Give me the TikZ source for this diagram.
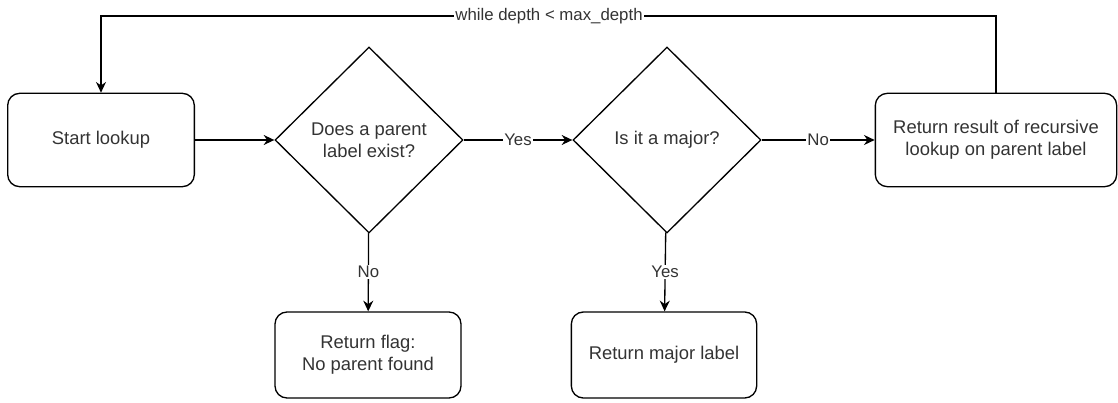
\documentclass[tikz,border=0pt]{standalone}
\usepackage{fontspec}
\setmainfont{Liberation Sans}
\usepackage{tikz}
\usetikzlibrary{positioning,shapes.geometric,arrows.meta}

\tikzset{
  box/.style={draw, rectangle, rounded corners=9pt, line width=1pt, align=center,
    minimum width=140pt, minimum height=70pt, font=\fontsize{13.8}{16.5}\selectfont, text=black!80},
  choice/.style={draw, diamond, line width=1pt, align=center, inner sep=0pt,
    minimum width=141pt, minimum height=139.5pt, font=\fontsize{13.8}{16.5}\selectfont, text=black!80},
  flow/.style={-{Stealth[length=8pt,width=7.5pt]}, line width=1pt},
  lbl/.style={fill=white, inner sep=1pt, font=\fontsize{12.6}{14}\selectfont, text=black!80}
}

\begin{document}
\begin{tikzpicture}[x=0.75pt,y=-0.75pt]
      \useasboundingbox (0,0) rectangle (1118,403);
      \node[box] (start) at (101,140) {Start lookup};
      \node[choice] (parent) at (369,140) {Does a parent\\label exist?};
      \node[choice] (major) at (667,140) {Is it a major?};
      \node[box, minimum width=181pt] (recurse) at (996,140) {Return result of recursive\\lookup on parent label};
      \node[box, minimum width=139.5pt, minimum height=64.5pt] (flag) at (368,355) {Return flag:\\No parent found};
      \node[box, minimum width=139pt, minimum height=64.5pt] (majlbl) at (664,355) {Return major label};

      %frecce
      \draw[flow] (start) -- (parent);
      \draw[flow] (parent) -- node[lbl] {Yes} (major);
      \draw[flow] (major) -- node[lbl] {No} (recurse);
      \draw[flow] (parent) -- node[lbl] {No} (flag);
      \draw[flow] (major) -- node[lbl] {Yes} (majlbl);

      %ciclo
      \coordinate (loop) at (549,16);
      \draw[flow] (recurse.north) |- (loop) node[lbl] {while depth < max\_depth} -| (start.north);
\end{tikzpicture}
\end{document}
